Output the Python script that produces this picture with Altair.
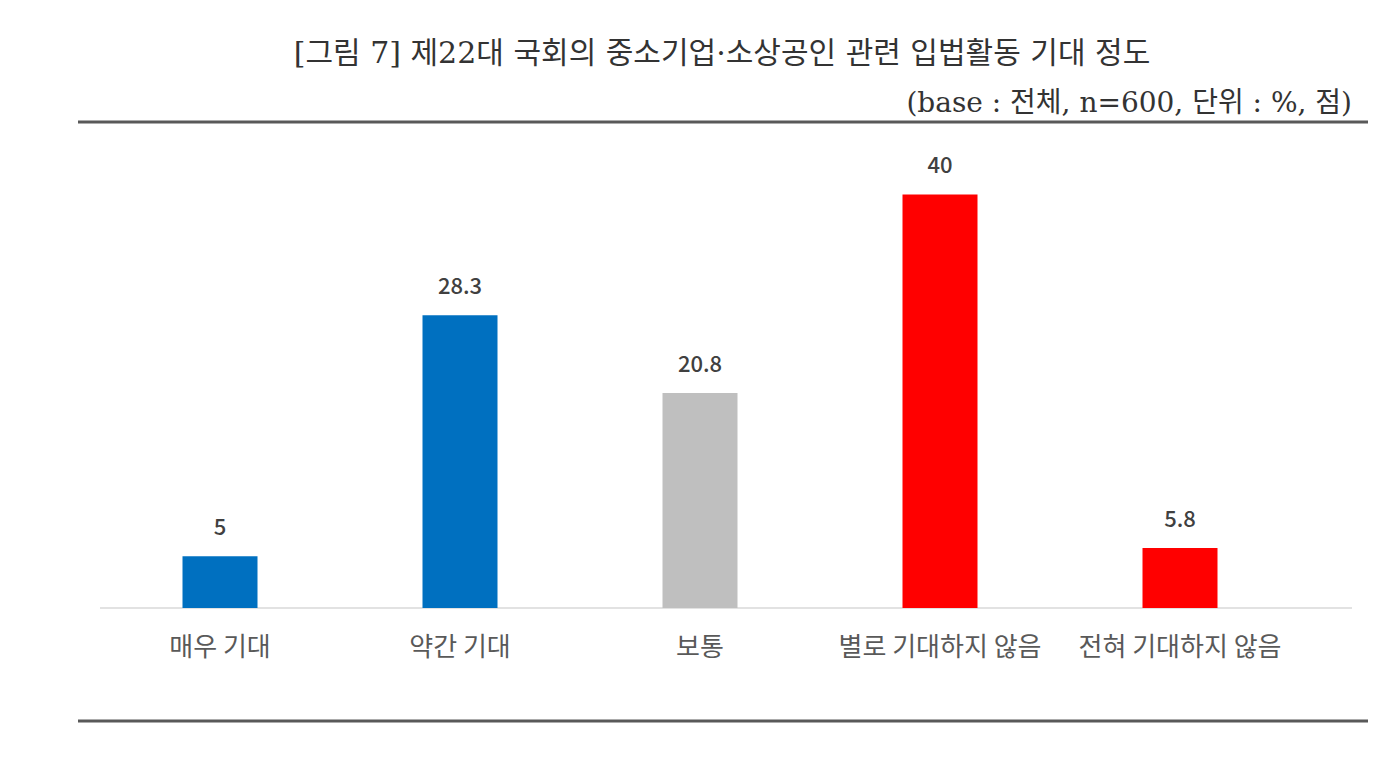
import altair as alt
import pandas as pd

categories = ["매우 기대", "약간 기대", "보통", "별로 기대하지 않음", "전혀 기대하지 않음"]
values = [5, 28.3, 20.8, 40, 5.8]
colors = ["#0070C0", "#0070C0", "#BFBFBF", "#FF0000", "#FF0000"]
title_text = "[그림 7] 제22대 국회의 중소기업·소상공인 관련 입법활동 기대 정도"
subtitle_text = "(base : 전체, n=600, 단위 : %, 점)"

df = pd.DataFrame({"cat": categories, "val": values, "color": colors,
                   "label": ["5", "28.3", "20.8", "40", "5.8"]})

W, H = 1200, 486
KFONT = "Noto Sans CJK KR"
SERIF = "DejaVu Serif, Noto Sans CJK KR"

x = alt.X("cat:N", sort=categories, title=None,
          scale=alt.Scale(paddingInner=0.6875, paddingOuter=0.34375),
          axis=None)
y = alt.Y("val:Q", scale=alt.Scale(domain=[0, 47], nice=False), axis=None)

base = alt.Chart(df)

baseline = alt.Chart(pd.DataFrame({"v": [0]})).mark_rule(
    color="#D9D9D9", strokeWidth=1.5).encode(
    x=alt.value(0), x2=alt.value(1252), y=alt.value(H))

bars = base.mark_bar().encode(x=x, y=y, color=alt.Color("color:N", scale=None))

labels = base.mark_text(dy=-28, baseline="middle", font=KFONT, fontSize=22,
                        fontWeight=500, color="#404040").encode(
    x=x, y=y, text="label:N")

cat_labels = base.mark_text(baseline="middle", font=KFONT, fontSize=26,
                            fontWeight="normal", color="#595959").encode(
    x=x, y=alt.value(H + 40), text="cat:N")

lines_df = pd.DataFrame({"k": ["top", "bottom"]})
top_line = alt.Chart(lines_df).transform_filter("datum.k=='top'").mark_rule(
    color="#595959", strokeWidth=3).encode(
    x=alt.value(-22), x2=alt.value(1268), y=alt.value(0))
bottom_line = alt.Chart(lines_df).transform_filter("datum.k=='bottom'").mark_rule(
    color="#595959", strokeWidth=3).encode(
    x=alt.value(-22), x2=alt.value(1268), y=alt.value(599))

title = alt.Chart(pd.DataFrame({"t": [title_text]})).mark_text(
    font=SERIF, fontSize=30, color="#333333",
    align="center", baseline="middle").encode(
    x=alt.value(622), y=alt.value(-68), text="t:N")
subtitle = alt.Chart(pd.DataFrame({"t": [subtitle_text]})).mark_text(
    font=SERIF, fontSize=28, color="#333333",
    align="right", baseline="middle").encode(
    x=alt.value(1252), y=alt.value(-18), text="t:N")

chart = alt.layer(baseline, bars, labels, cat_labels, top_line, bottom_line, title, subtitle).properties(
    width=W, height=H,
    padding={"left": 92, "top": 114, "right": 80, "bottom": 120},
    autosize=alt.AutoSizeParams(type="none"),
    background="white",
).configure_view(stroke=None)

chart.save("out.html", embed_options={"renderer": "svg", "actions": False})
